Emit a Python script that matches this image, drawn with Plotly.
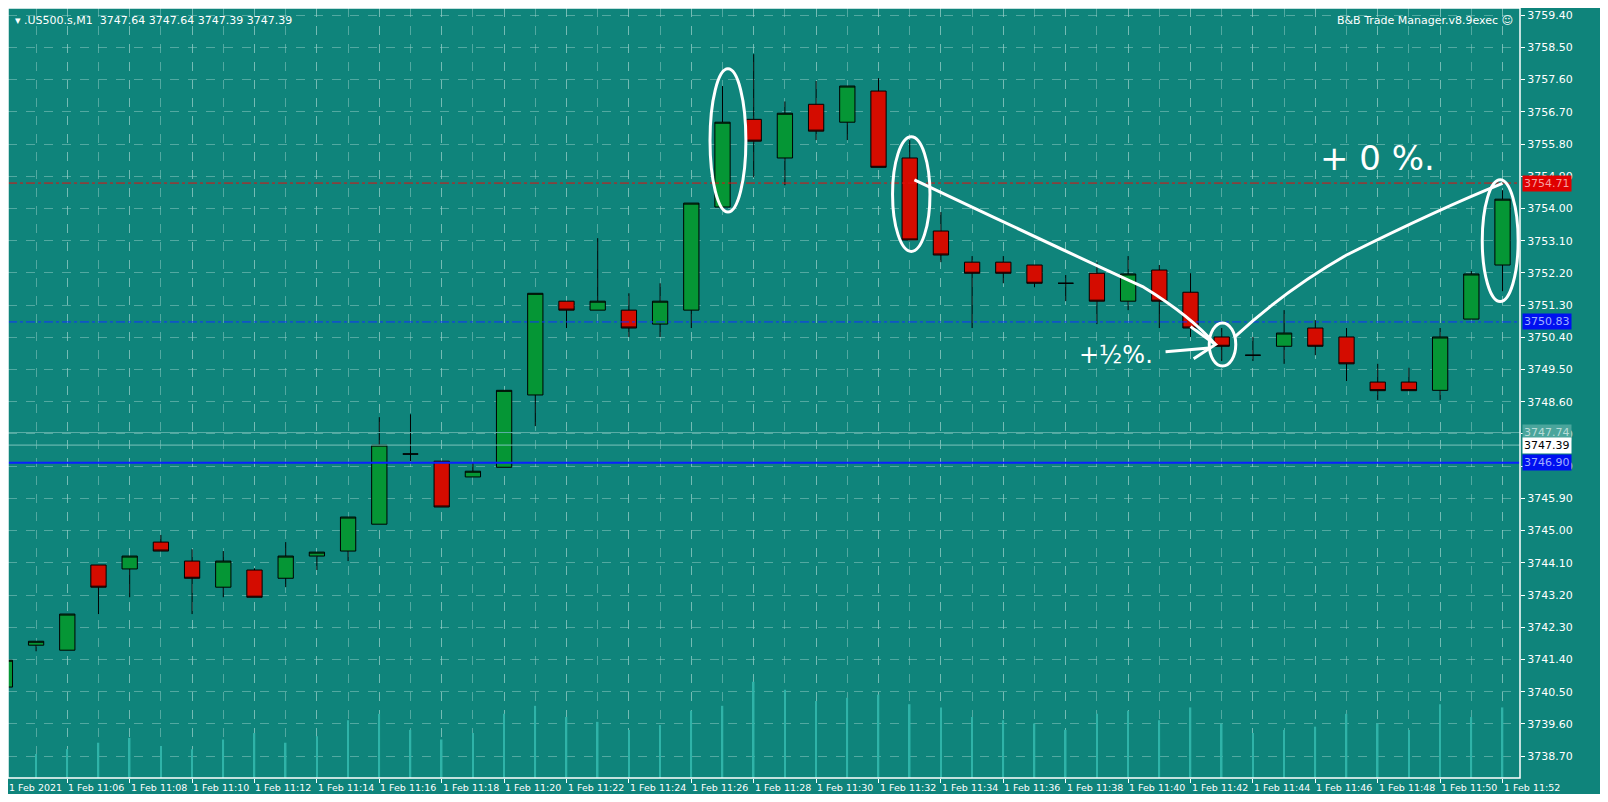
import plotly.graph_objects as go

times = ["11:04","11:05","11:06","11:07","11:08","11:09","11:10","11:11","11:12","11:13","11:14","11:15","11:16","11:17","11:18","11:19","11:20","11:21","11:22","11:23","11:24","11:25","11:26","11:27","11:28","11:29","11:30","11:31","11:32","11:33","11:34","11:35","11:36","11:37","11:38","11:39","11:40","11:41","11:42","11:43","11:44","11:45","11:46","11:47","11:48","11:49","11:50","11:51","11:52"]
opens  = [3740.63,3741.80,3741.66,3744.04,3743.93,3744.68,3744.15,3743.42,3743.90,3743.67,3744.29,3744.43,3745.18,3747.14,3746.94,3746.50,3746.77,3748.79,3751.41,3751.16,3751.16,3750.77,3751.16,3754.04,3756.49,3755.41,3756.91,3756.41,3757.28,3755.41,3753.37,3752.50,3752.50,3752.42,3751.91,3752.19,3751.41,3752.28,3751.66,3750.41,3749.90,3750.15,3750.66,3750.41,3749.15,3749.15,3748.92,3750.91,3752.42]
highs  = [3741.66,3741.91,3742.67,3744.04,3744.29,3744.88,3744.48,3744.43,3743.95,3744.68,3744.40,3745.38,3748.17,3748.25,3746.94,3746.91,3748.92,3751.63,3751.41,3753.17,3751.63,3751.91,3754.15,3757.42,3758.31,3756.99,3757.56,3757.42,3757.64,3755.91,3753.90,3752.67,3752.67,3752.42,3752.14,3752.50,3752.67,3752.42,3752.19,3750.66,3750.41,3751.16,3750.88,3750.66,3749.66,3749.55,3750.66,3752.25,3754.51]
lows   = [3739.90,3741.63,3741.66,3742.67,3743.14,3744.43,3742.67,3743.14,3743.14,3743.42,3743.90,3744.15,3745.18,3746.94,3745.66,3746.50,3746.77,3747.92,3750.66,3751.16,3750.41,3750.41,3750.66,3754.04,3754.87,3754.65,3755.91,3755.91,3755.15,3753.12,3752.50,3750.66,3751.91,3751.80,3751.41,3750.77,3751.16,3750.66,3750.41,3749.74,3749.74,3749.66,3749.90,3749.18,3748.65,3748.91,3748.65,3750.91,3751.69]
closes = [3741.38,3741.91,3742.67,3743.42,3744.29,3744.43,3743.67,3744.15,3743.14,3744.29,3744.40,3745.38,3747.39,3747.14,3745.66,3746.66,3748.92,3751.63,3751.16,3751.41,3750.66,3751.41,3754.15,3756.41,3755.88,3756.66,3756.16,3757.42,3755.15,3753.12,3752.70,3752.19,3752.19,3751.91,3751.91,3751.41,3752.17,3751.41,3750.66,3750.15,3749.90,3750.52,3750.15,3749.66,3748.91,3748.91,3750.41,3752.17,3754.26]
volumes = [20,15,18,22,25,20,18,24,28,22,26,36,40,30,24,28,40,45,38,35,30,33,42,45,60,55,48,50,52,46,44,38,36,34,30,40,42,36,44,34,28,30,32,40,34,30,46,38,44]

tick_idx = list(range(0, 49, 2))
tick_text = ["1 Feb 2021"] + ["1 Feb " + times[i] for i in tick_idx[1:]]
price_ticks = [3738.70 + 0.9 * k for k in range(24)]
levels = {"red": 3754.71, "blue_dash": 3750.83, "blue": 3746.90, "gray": 3747.74, "last": 3747.39}

BG = "#0f847b"
GRID = "rgba(150,205,200,0.5)"
X0 = 0.1
x = list(range(len(times)))

fig = go.Figure()
fig.add_trace(go.Bar(x=x, y=volumes, yaxis="y2", width=0.05, marker=dict(color="#2fb3a8", line_width=0), showlegend=False, hoverinfo="skip"))
fig.add_trace(go.Candlestick(x=x, open=opens, high=highs, low=lows, close=closes, whiskerwidth=0,
    increasing=dict(fillcolor="#059635", line=dict(color="black", width=1)),
    decreasing=dict(fillcolor="#d40c00", line=dict(color="black", width=1)), showlegend=False))

fig.add_hline(y=levels["red"], line=dict(color="#e01010", width=1, dash="dashdot"))
fig.add_hline(y=levels["blue_dash"], line=dict(color="#1030ff", width=1, dash="dashdot"))
fig.add_hline(y=levels["blue"], line=dict(color="#0a20ff", width=2))
fig.add_hline(y=levels["gray"], line=dict(color="#5fb0a8", width=1))
fig.add_hline(y=levels["last"], line=dict(color="#7cc4bc", width=1))

tags = [(levels["red"], "#e00000", "#f6a0a0"), (levels["blue_dash"], "#0010f0", "#a0b0ff"),
        (levels["blue"], "#0010f0", "#a0b0ff"), (levels["gray"], "#4aa59c", "#b8dcd8"), (levels["last"], "white", "black")]
for val, bg, fg in tags:
    fig.add_annotation(xref="paper", yref="y", x=1.0, y=val, xanchor="left", xshift=2, text=f"{val:.2f}",
                       showarrow=False, bgcolor=bg, font=dict(color=fg, size=11, family="DejaVu Sans"), borderpad=1)

for i, t in zip(tick_idx, tick_text):
    fig.add_annotation(x=max(i, X0), yref="paper", y=0, yanchor="top", xanchor="left", xshift=-1, yshift=-2, text=t,
                       showarrow=False, font=dict(color="white", size=9.5, family="DejaVu Sans"))

W = "white"
for (x0, x1, y0, y1) in [(22.6, 23.75, 3753.9, 3757.9), (28.45, 29.65, 3752.8, 3756.0), (38.6, 39.45, 3749.6, 3750.8), (47.35, 48.5, 3751.4, 3754.8)]:
    fig.add_shape(type="circle", x0=x0, x1=x1, y0=y0, y1=y1, line=dict(color=W, width=3))
fig.add_shape(type="path", path="M 29.15 3754.8 Q 34 3752.8 36.5 3751.8 Q 38 3751.0 38.8 3750.2", line=dict(color=W, width=3))
fig.add_shape(type="path", path="M 38.0 3750.7 L 38.8 3750.2 L 38.1 3749.8", line=dict(color=W, width=3))
fig.add_shape(type="path", path="M 38.6 3750.1 L 37.2 3750.0", line=dict(color=W, width=3))
fig.add_shape(type="path", path="M 39.4 3750.4 Q 41 3751.7 43 3752.7 Q 46 3754.0 48.0 3754.7", line=dict(color=W, width=3))
fig.add_annotation(x=44.0, y=3755.4, text="+ 0 %.", showarrow=False, font=dict(color=W, size=34, family="DejaVu Sans"))
fig.add_annotation(x=35.6, y=3749.9, text="+½%.", showarrow=False, font=dict(color=W, size=24, family="DejaVu Sans"))

fig.add_annotation(xref="paper", yref="paper", x=0.003, y=0.995, xanchor="left", yanchor="top", showarrow=False,
                   text="▾ .US500.s,M1  3747.64 3747.64 3747.39 3747.39", font=dict(color="white", size=11, family="DejaVu Sans"))
fig.add_annotation(xref="paper", yref="paper", x=0.997, y=0.995, xanchor="right", yanchor="top", showarrow=False,
                   text="B&B Trade Manager.v8.9exec ☺", font=dict(color="white", size=11, family="DejaVu Sans"))
fig.add_shape(type="rect", xref="paper", yref="paper", x0=0, x1=1, y0=0, y1=1, line=dict(color="white", width=1.5))

fig.update_layout(
    width=1592, height=786, margin=dict(l=0, r=80, t=0, b=16, autoexpand=False),
    paper_bgcolor=BG, plot_bgcolor=BG,
    xaxis=dict(range=[X0, 48.56], tickvals=tick_idx, showticklabels=False, rangeslider=dict(visible=False),
               showgrid=True, gridcolor=GRID, griddash="dash", gridwidth=1,
               minor=dict(dtick=1, showgrid=True, gridcolor=GRID, griddash="dash"),
               ticks="outside", tickcolor="white", ticklen=4, zeroline=False),
    yaxis=dict(range=[3738.09, 3759.60], side="right", tickvals=price_ticks, tickformat=".2f",
               showgrid=True, gridcolor=GRID, griddash="dash",
               tickfont=dict(color="white", size=11, family="DejaVu Sans"), ticks="outside", tickcolor="white", ticklen=4,
               zeroline=False),
    yaxis2=dict(range=[0, 60 * 8], overlaying="y", visible=False),
    font=dict(family="DejaVu Sans"),
)
fig.write_html("out.html")
